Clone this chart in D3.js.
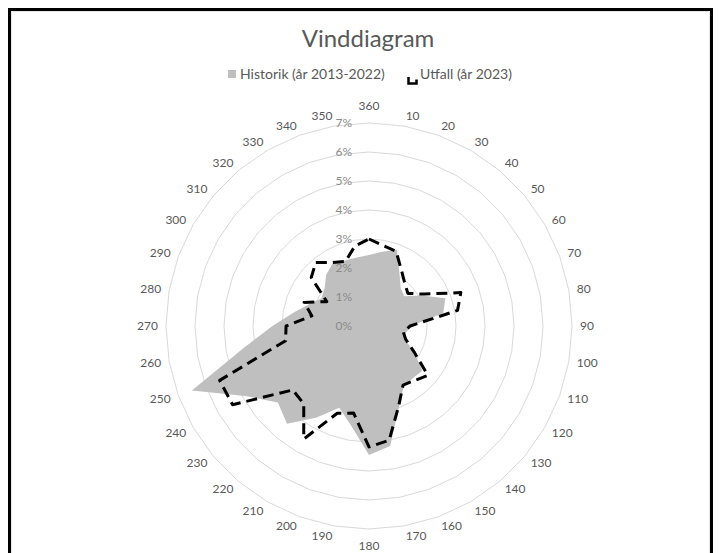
<!DOCTYPE html>
<html>
<head>
<meta charset="utf-8">
<script src="https://cdn.jsdelivr.net/npm/d3@7"></script>
<style>
  body { margin: 0; background: #fff; }
  svg { display: block; font-family: Lato, "Open Sans", sans-serif; }
</style>
</head>
<body>
<div id="chart"></div>
<script>
// wind directions, first one sits at the top
var directions = [360, 10, 20, 30, 40, 50, 60, 70, 80, 90, 100, 110, 120, 130, 140, 150, 160, 170,
                  180, 190, 200, 210, 220, 230, 240, 250, 260, 270, 280, 290, 300, 310, 320, 330, 340, 350];

// share of hours per direction, in percent
var historik = [2.45, 2.6, 2.8, 2.1, 1.7, 1.6, 2.1, 2.8, 2.6, 1.45, 1.3, 1.3, 1.8, 2.4, 2.35, 2.4, 3.0, 4.2,
                4.45, 3.5, 3.0, 3.65, 4.4, 4.1, 4.85, 6.5, 4.4, 3.33, 2.65, 2.2, 1.9, 2.0, 2.3, 2.5, 2.4, 2.4];
var utfall = [3.0, 2.82, 2.74, 2.23, 1.92, 1.75, 2.2, 3.37, 3.1, 1.42, 1.2, 1.35, 1.8, 2.65, 2.45, 2.35, 2.97, 4.0,
              4.17, 3.05, 3.2, 4.5, 3.5, 3.43, 5.43, 5.48, 2.92, 2.86, 2.0, 2.38, 1.68, 2.6, 2.86, 2.53, 2.37, 2.8];

// radial axis ticks (percent)
var ticks = [0, 1, 2, 3, 4, 5, 6, 7];

var title = 'Vinddiagram';
var seriesNames = ['Historik (år 2013-2022)', 'Utfall (år 2023)'];

var width = 720, height = 553;
var cx = 369, cy = 326, R = 203;

var svg = d3.select('#chart').append('svg').attr('width', width).attr('height', height);

// frame around the chart
svg.append('rect').attr('x', 9.5).attr('y', 9.5).attr('width', 702).attr('height', 620)
  .attr('fill', '#fff').attr('stroke', '#000').attr('stroke-width', 3);
svg.append('rect').attr('x', 11.5).attr('y', 11.5).attr('width', 698).attr('height', 620)
  .attr('fill', 'none').attr('stroke', '#e6e6e6').attr('stroke-width', 1);

// scales
var rScale = d3.scaleLinear().domain([0, d3.max(ticks)]).range([0, R]);
var aScale = d3.scaleBand().domain(directions).range([0, 2 * Math.PI]);
function ang(d) { return aScale(d); }

var g = svg.append('g').attr('transform', 'translate(' + cx + ',' + cy + ')');

// gridlines: polygons through every category, like the spreadsheet draws them
var ring = d3.lineRadial().curve(d3.curveLinearClosed);
g.selectAll('.grid').data(ticks.slice(1)).enter().append('path')
  .attr('class', 'grid')
  .attr('d', function (t) {
    return ring(directions.map(function (d) { return [ang(d), rScale(t)]; }));
  })
  .attr('fill', 'none').attr('stroke', '#d9d9d9').attr('stroke-width', 1);

// series
var radial = d3.lineRadial()
  .angle(function (d, i) { return ang(directions[i]); })
  .radius(function (d) { return rScale(d); })
  .curve(d3.curveLinearClosed);

g.append('path').datum(historik).attr('d', radial)
  .attr('fill', '#bfbfbf').attr('stroke', 'none');

g.append('path').datum(utfall).attr('d', radial)
  .attr('fill', 'none').attr('stroke', '#000').attr('stroke-width', 3)
  .attr('stroke-dasharray', '11,6').attr('stroke-linejoin', 'round');

// percent labels along the top spoke
g.selectAll('.tick').data(ticks).enter().append('text')
  .attr('class', 'tick')
  .attr('x', -17).attr('y', function (t) { return -rScale(t); })
  .attr('dy', '0.35em').attr('text-anchor', 'end')
  .attr('font-size', 12).attr('fill', '#8c8c8c')
  .text(function (t) { return t + '%'; });

// category labels around the outside, pushed out by half their width on the sides
g.selectAll('.cat').data(directions).enter().append('text')
  .attr('class', 'cat')
  .attr('dy', '0.35em').attr('text-anchor', 'middle')
  .attr('font-size', 12).attr('fill', '#595959')
  .text(function (d) { return d; })
  .each(function (d) {
    var a = ang(d), s = Math.sin(a), c = Math.cos(a);
    var w = this.getComputedTextLength();
    var side = Math.abs(s) < 0.01 ? 0 : Math.sign(s);
    var r0 = R + 8;
    var x = r0 * s + side * w / 2;
    var y = -(r0 * c) - c * 2 - (side === 0 ? Math.sign(c) * 7 : 0);
    d3.select(this).attr('x', x).attr('y', y);
  });

// title
svg.append('text').attr('x', 368).attr('y', 47).attr('text-anchor', 'middle')
  .attr('font-size', 24).attr('fill', '#595959').text(title);

// legend
var legend = svg.append('g').attr('font-size', 14).attr('fill', '#595959');
legend.append('rect').attr('x', 228).attr('y', 70).attr('width', 8).attr('height', 8).attr('fill', '#bfbfbf');
legend.append('text').attr('x', 240).attr('y', 79).text(seriesNames[0]);
legend.append('path').attr('d', 'M408.5,77 V83.5 H416.5 V79.5')
  .attr('fill', 'none').attr('stroke', '#000').attr('stroke-width', 2.5);
legend.append('text').attr('x', 420).attr('y', 79).text(seriesNames[1]);
</script>
</body>
</html>
